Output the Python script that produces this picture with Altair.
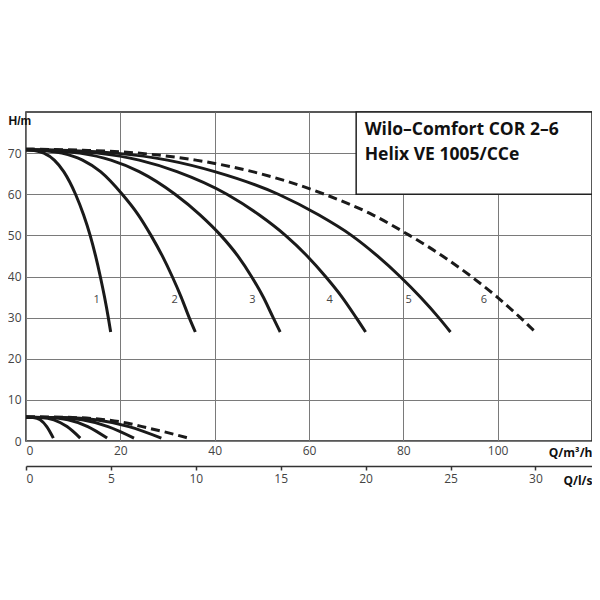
import altair as alt
import pandas as pd

# ---- pump head curves (upper set): Q in m³/h, H in m ----
c_h = [70.8, 70.6, 70, 68.3, 65.5, 60, 55, 50, 45, 40, 35, 30, 26.5]
c1_q = [0, 2, 3.8, 6, 8, 10.5, 12.2, 13.6, 14.75, 15.75, 16.65, 17.45, 17.95]
c2_q = [0, 4, 7.6, 12, 15.8, 20.4, 23.8, 26.5, 28.9, 31.0, 32.9, 34.6, 35.9]
c3_q = [0, 6, 11.4, 18, 24, 31.6, 36.9, 41.3, 44.9, 47.8, 50.3, 52.4, 53.9]
c4_q = [0, 8, 15.2, 24, 32, 42.6, 49.4, 55, 59.6, 63.5, 67, 70, 72]
c5_q = [0, 10, 19, 30, 40, 53.5, 62, 69, 74.5, 79.3, 83.6, 87.5, 90]
c6_q = [0, 12, 22.8, 36, 48, 63.3, 73.5, 81.3, 88.3, 94.4, 99.9, 104.8, 108]
c6_h = [71, 70.7, 70.1, 68.3, 65.5, 60, 55, 50, 45, 40, 35, 30, 26.5]

# ---- lower set of curves ----
l_h = [5.8, 5.7, 5.15, 3.5, 0.7]
l1_q = [0, 1.5, 3.0, 4.4, 5.8]
l2_q = [0, 3, 5.9, 8.7, 11.5]
l3_q = [0, 4.5, 8.9, 13.1, 17.2]
l4_q = [0, 6, 11.9, 17.4, 22.9]
l5_q = [0, 7.5, 14.8, 21.8, 28.7]
l6_q = [0, 9, 19.8, 26.1, 29.8, 34.1]
l6_h = [5.9, 5.75, 4.7, 3.1, 2.1, 0.8]

# ---- curve labels ----
label_text = ["1", "2", "3", "4", "5", "6"]
label_q = [15, 31.5, 48, 64.4, 81.1, 97.1]
label_h = [34.3, 34.3, 34.3, 34.3, 34.3, 34.3]

# ---- axes ticks ----
q_m3h_ticks = [0, 20, 40, 60, 80, 100]
h_ticks = [0, 10, 20, 30, 40, 50, 60, 70]
q_ls_ticks = [0, 5, 10, 15, 20, 25, 30]

# ---- title box ----
box_q = [70, 120]
box_h = [60, 80]
title_lines = ["Wilo–Comfort COR 2–6", "Helix VE 1005/CCe"]
title_q = [71.8, 71.8]
title_h = [74.4, 68.3]

FONT = "Open Sans"
W, H = 566, 329

curves = [
    ("c1", c1_q, c_h, False), ("c2", c2_q, c_h, False), ("c3", c3_q, c_h, False),
    ("c4", c4_q, c_h, False), ("c5", c5_q, c_h, False), ("c6", c6_q, c6_h, True),
    ("l1", l1_q, l_h, False), ("l2", l2_q, l_h, False), ("l3", l3_q, l_h, False),
    ("l4", l4_q, l_h, False), ("l5", l5_q, l_h, False), ("l6", l6_q, l6_h, True),
]
rows = []
for name, qs, hs, dashed in curves:
    for i, (q, h) in enumerate(zip(qs, hs)):
        rows.append({"curve": name, "q": q, "h": h, "i": i, "dashed": dashed})
df = pd.DataFrame(rows)

x_axis = alt.Axis(values=q_m3h_ticks, grid=True, gridColor="#7a7a7a", gridWidth=1,
                  domain=False, ticks=False, labelPadding=4, labelFontSize=12,
                  labelColor="#444", labelFont=FONT, title="Q/m³/h", titleFont=FONT,
                  titleFontSize=12, titleFontWeight="bold", titleColor="#111",
                  titleX=W, titleY=11, titleAlign="right", titleBaseline="middle",
                  titleAnchor="end")
y_axis = alt.Axis(values=h_ticks, grid=True, gridColor="#7a7a7a", gridWidth=1,
                  domain=False, ticks=False, labelPadding=5, labelFontSize=12,
                  labelColor="#444", labelFont=FONT, title="H/m",
                  titleFont="Liberation Sans Narrow, Liberation Sans, sans-serif",
                  titleFontSize=12, titleFontWeight="bold", titleColor="#111",
                  titleAngle=0, titleX=-18, titleY=8, titleAlign="left",
                  titleBaseline="middle", titleAnchor="end")

xs = alt.Scale(domain=[0, 120], nice=False, zero=False)
ys = alt.Scale(domain=[0, 80], nice=False, zero=False)


def X(field):
    return alt.X(field, type="quantitative", scale=xs, axis=x_axis)


def Y(field):
    return alt.Y(field, type="quantitative", scale=ys, axis=y_axis)


box_df = pd.DataFrame({"x1": [box_q[0]], "x2": [box_q[1]], "y1": [box_h[0]], "y2": [box_h[1]]})
box = alt.Chart(box_df).mark_rect(fill="white", stroke="#222", strokeWidth=1.5).encode(
    x=X("x1"), x2="x2", y=Y("y1"), y2="y2")

solid = alt.Chart(df[~df["dashed"]]).mark_line(
    color="#1a1a1a", strokeWidth=3, interpolate="monotone").encode(
    x=X("q"), y=Y("h"), detail="curve:N", order="i:Q")

dashed = alt.Chart(df[df["dashed"]]).mark_line(
    color="#1a1a1a", strokeWidth=3, strokeDash=[9, 5], interpolate="monotone").encode(
    x=X("q"), y=Y("h"), detail="curve:N", order="i:Q")

labels_df = pd.DataFrame({"t": label_text, "q": label_q, "h": label_h})
labels = alt.Chart(labels_df).mark_text(font=FONT, fontSize=11, color="#444",
                                        baseline="middle", align="center").encode(
    x=X("q"), y=Y("h"), text="t:N")

title_df = pd.DataFrame({"t": title_lines, "q": title_q, "h": title_h})
title = alt.Chart(title_df).mark_text(font=FONT, fontSize=17.5, fontWeight="bold",
                                      color="#111", align="left",
                                      baseline="alphabetic").encode(
    x=X("q"), y=Y("h"), text="t:N")

main = alt.layer(box, solid, dashed, labels, title)

ls_df = pd.DataFrame({"ls": q_ls_ticks})
ls_axis = alt.Axis(orient="bottom", offset=25, values=q_ls_ticks, grid=False,
                   domain=True, domainColor="#333", domainWidth=1.5,
                   ticks=True, tickSize=4, tickColor="#333", tickWidth=1.5,
                   labelPadding=3, labelFontSize=12, labelColor="#444", labelFont=FONT,
                   title="Q/l/s", titleFont=FONT, titleFontSize=12,
                   titleFontWeight="bold", titleColor="#111", titleX=W, titleY=14,
                   titleAlign="right", titleBaseline="middle", titleAnchor="end")
ls_layer = alt.Chart(ls_df).mark_point(opacity=0).encode(
    x=alt.X("ls:Q", scale=alt.Scale(domain=[0, 33.3333], nice=False, zero=False),
            axis=ls_axis))

chart = alt.layer(main, ls_layer).resolve_scale(x="independent").properties(
    width=W, height=H,
    autosize=alt.AutoSizeParams(type="none"),
    padding={"left": 18, "top": 104, "right": 0, "bottom": 60},
).configure_view(stroke="#222", strokeWidth=1.5)

chart.save("out.html", embed_options={"renderer": "svg", "actions": False})
